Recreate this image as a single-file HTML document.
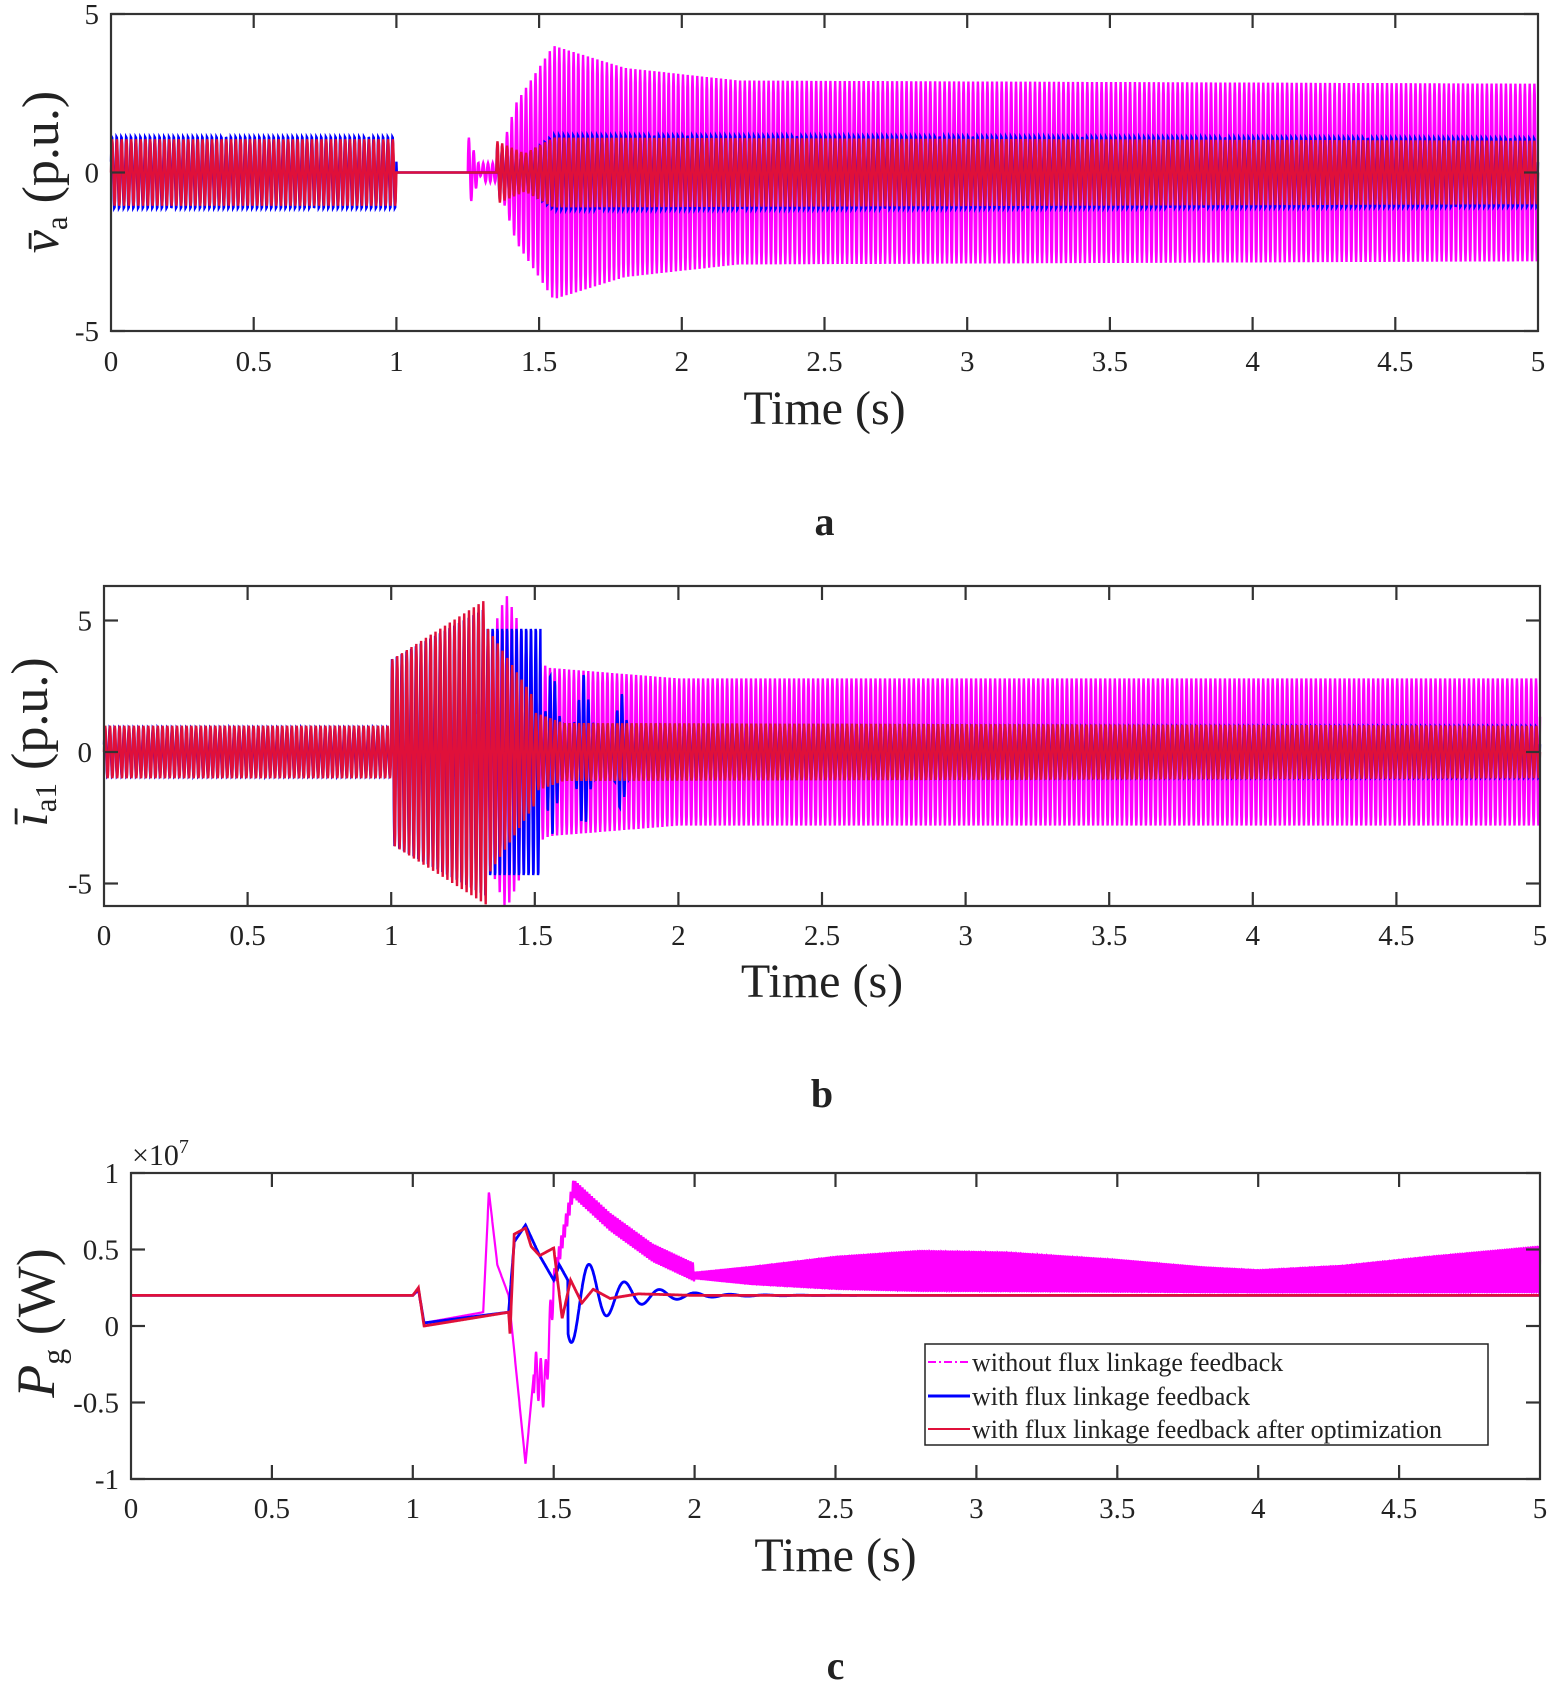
<!DOCTYPE html>
<html><head><meta charset="utf-8">
<style>
html,body{margin:0;padding:0;background:#fff;}
svg{display:block;}
text{font-family:"Liberation Serif",serif;fill:#222;}
</style></head>
<body>
<svg id="s" width="1549" height="1686" viewBox="0 0 1549 1686" xmlns="http://www.w3.org/2000/svg">
<g id="plots"></g>
<g id="frames" fill="none" stroke="#333" stroke-width="2.2"></g>
<g id="labels"></g>
<!-- legend -->
<rect x="925" y="1344" width="563" height="101" fill="#fff" stroke="#222" stroke-width="1.5"/>
<line x1="928" y1="1362" x2="970" y2="1362" stroke="#f0f" stroke-width="2" stroke-dasharray="8,3,2,3"/>
<line x1="928" y1="1396" x2="970" y2="1396" stroke="#00f" stroke-width="3"/>
<line x1="928" y1="1429" x2="970" y2="1429" stroke="#e0103a" stroke-width="2"/>
<text x="972" y="1371" font-size="26">without flux linkage feedback</text>
<text x="972" y="1405" font-size="26">with flux linkage feedback</text>
<text x="972" y="1438" font-size="26">with flux linkage feedback after optimization</text>
</svg>
<script>
var NS="http://www.w3.org/2000/svg";
var plots=document.getElementById('plots'),frames=document.getElementById('frames'),labels=document.getElementById('labels');
function el(p,tag,a,txt){var e=document.createElementNS(NS,tag);for(var k in a)e.setAttribute(k,a[k]);if(txt!==undefined)e.textContent=txt;p.appendChild(e);return e;}
var P=[
 {L:111,R:1538,T:14,B:331,z:172.5,s:31.7,yt:[[5,'5'],[0,'0'],[-5,'-5']],tl:371,tt:424,let:'a',ly:535},
 {L:104,R:1540,T:586,B:906,z:752,s:26.3,yt:[[5,'5'],[0,'0'],[-5,'-5']],tl:945,tt:997,let:'b',ly:1107},
 {L:131,R:1540,T:1173,B:1479,z:1326,s:15.3,yt:[[10,'1'],[5,'0.5'],[0,'0'],[-5,'-0.5'],[-10,'-1']],tl:1518,tt:1571,let:'c',ly:1679}
];
function X(p,t){return p.L+t/5*(p.R-p.L);}
function path(p,f,t0,t1,dt,col,w,dash){var d='';for(var t=t0;t<=t1+1e-9;t+=dt){var v=f(t);var y=p.z-v*p.s;y=Math.max(p.T,Math.min(p.B,y));d+=(d?'L':'M')+X(p,t).toFixed(1)+','+y.toFixed(1);}
 var a={d:d,fill:'none',stroke:col,'stroke-width':w};if(dash)a['stroke-dasharray']=dash;el(plots,'path',a);}
var TW=2*Math.PI*60, dt=1/720;
function env(pts,t){for(var i=0;i<pts.length-1;i++){if(t>=pts[i][0]&&t<=pts[i+1][0]){var r=(t-pts[i][0])/(pts[i+1][0]-pts[i][0]);return pts[i][1]+r*(pts[i+1][1]-pts[i][1]);}}return pts[pts.length-1][1];}
var M='#ff00ff',B='#0000ff',Rd='#e0103a';
// panel a
var a=P[0];
path(a,function(t){if(t<1.25)return 0;if(t<1.3)return 1.2*Math.sin(TW*t)*(1-(t-1.25)/0.05);if(t<1.36)return 0.3*Math.sin(TW*t);var A=env([[1.36,0.5],[1.42,2.2],[1.55,4],[1.8,3.3],[2.2,2.9],[5,2.8]],t);return A*Math.sin(TW*t);},1.25,5,dt,M,2.4);
path(a,function(t){if(t<1)return 1.15*Math.sin(TW*t+0.3);if(t<1.35)return 0;var A=env([[1.35,0.8],[1.45,0.5],[1.55,1.2],[5,1.1]],t);return A*Math.sin(TW*t+0.3);},0,5,dt,B,2.4);
path(a,function(t){if(t<1)return 1.05*Math.sin(TW*t);if(t<1.35)return 0;var A=env([[1.35,1.0],[1.45,0.6],[1.55,1.1],[5,1.0]],t);return A*Math.sin(TW*t);},0,5,dt,Rd,2.4);
// panel b
var b=P[1];
path(b,function(t){if(t<1.3)return 0;var A=env([[1.3,3],[1.4,6],[1.5,3.5],[1.55,3.2],[2,2.8],[5,2.8]],t);return A*Math.sin(TW*t+0.5);},1.3,5,dt,M,2.4);
path(b,function(t){if(t<1)return 0.95*Math.sin(TW*t+0.3);var A;if(t<1.33)A=env([[1,3.6],[1.33,5.6]],t);else if(t<1.52)A=4.8;else A=1.0+2.2*Math.exp(-Math.pow((t-1.56)/0.02,2))+2*Math.exp(-Math.pow((t-1.67)/0.02,2))+1.3*Math.exp(-Math.pow((t-1.8)/0.015,2));return A*Math.sin(TW*t+0.3);},0,5,dt,B,2.4);
path(b,function(t){if(t<1)return 1.0*Math.sin(TW*t);var A;if(t<1.33)A=env([[1,3.5],[1.33,5.8]],t);else if(t<1.5)A=env([[1.33,4.8],[1.5,2]],t);else A=env([[1.5,1.5],[1.6,1.1],[5,1.0]],t);return A*Math.sin(TW*t);},0,5,dt,Rd,2.4);
// panel c (units 1e6)
var c=P[2];
var TW2=2*Math.PI*120;
path(c,function(t){if(t<1.25)return env([[1,2],[1.02,2.3],[1.04,0.2],[1.25,0.9]],t);
 if(t<1.5)return env([[1.25,0.9],[1.27,8.8],[1.3,4],[1.34,2],[1.4,-9],[1.43,-3],[1.47,-4],[1.5,3],[1.57,9]],t)+(t>1.43?1.5*Math.sin(TW*t):0);
 var base=env([[1.5,3],[1.57,9],[1.7,6.8],[1.85,4.8],[2.0,3.5],[5,3.3]],t);
 var top=env([[2,3.5],[2.2,3.9],[2.5,4.6],[2.8,5],[3.1,4.9],[3.5,4.4],[3.8,3.9],[4,3.7],[4.3,4.0],[4.6,4.6],[5,5.3]],t);
 var bot=env([[2,3.1],[2.2,2.7],[2.5,2.35],[2.8,2.2],[5,2.1]],t);
 if(t<2.0)return base+0.6*Math.sin(TW2*t);var m=(top+bot)/2,h=(top-bot)/2;return m+h*Math.sin(TW2*t+0.4);},1,5,1/960,M,2.2,'');
path(c,function(t){if(t<1)return 2;if(t<1.34)return env([[1,2],[1.02,2.4],[1.04,0.2],[1.34,0.9]],t);if(t<1.5)return env([[1.34,0.9],[1.36,5.5],[1.4,6.6],[1.45,4.6],[1.5,3.0]],t);
 if(t<1.55)return env([[1.5,3],[1.52,4],[1.55,3]],t);var u=t-1.55;return 2+(-2.6)*Math.exp(-u/0.15)*Math.sin(2*Math.PI*u/0.125+0.8)*1.3;},0,5,1/1000,B,2.8);
path(c,function(t){if(t<1)return 2;if(t<1.34)return env([[1,2],[1.02,2.5],[1.04,0],[1.34,0.9],],t);if(t<1.5)return env([[1.34,0.9],[1.345,-0.5],[1.36,6],[1.4,6.4],[1.42,5.2],[1.45,4.6],[1.5,5.1]],t);
 return env([[1.5,5.1],[1.53,0.5],[1.56,3],[1.6,1.5],[1.64,2.4],[1.7,1.8],[1.8,2.1],[2,2],[5,2]],t);},0,5,1/1000,Rd,2.8);
// frames, ticks, labels
P.forEach(function(p){
 el(frames,'rect',{x:p.L,y:p.T,width:p.R-p.L,height:p.B-p.T});
 for(var i=0;i<=10;i++){var t=i*0.5,x=X(p,t);
  if(i>0&&i<10){el(frames,'line',{x1:x,y1:p.B,x2:x,y2:p.B-14});el(frames,'line',{x1:x,y1:p.T,x2:x,y2:p.T+14});}
  var s=(i%2==0)?String(t):t.toFixed(1);el(labels,'text',{x:x,y:p.tl,'font-size':29,'text-anchor':'middle'},s);}
 p.yt.forEach(function(q){var y=p.z-q[0]*p.s;el(frames,'line',{x1:p.L,y1:y,x2:p.L+14,y2:y});el(frames,'line',{x1:p.R,y1:y,x2:p.R-14,y2:y});
  el(labels,'text',{x:p.L-12,y:y+10,'font-size':29,'text-anchor':'end'},q[1]);});
 el(labels,'text',{x:(p.L+p.R)/2,y:p.tt,'font-size':48,'text-anchor':'middle'},'Time (s)');
 el(labels,'text',{x:(p.L+p.R)/2,y:p.ly,'font-size':40,'text-anchor':'middle','font-weight':'bold'},p.let);
});
</script>
<div style="position:absolute;left:0;top:0;width:1549px;height:1686px;pointer-events:none;">
<svg width="1549" height="1686" style="position:absolute;left:0;top:0">
<g font-family="Liberation Serif,serif" fill="#222">
<g transform="translate(58,172) rotate(-90)"><text text-anchor="middle" font-size="52"><tspan font-style="italic">v̄</tspan><tspan font-size="31" dy="9">a</tspan><tspan dy="-9"> (p.u.)</tspan></text></g>
<g transform="translate(47,742) rotate(-90)"><text text-anchor="middle" font-size="52"><tspan font-style="italic">ī</tspan><tspan font-size="31" dy="9">a1</tspan><tspan dy="-9"> (p.u.)</tspan></text></g>
<g transform="translate(54,1323) rotate(-90)"><text text-anchor="middle" font-size="54"><tspan font-style="italic">P</tspan><tspan font-size="32" dy="10">g</tspan><tspan dy="-10"> (W)</tspan></text></g>
<text x="132" y="1165" font-size="30">×10<tspan font-size="20" dy="-12">7</tspan></text>
</g></svg></div>
</body></html>
